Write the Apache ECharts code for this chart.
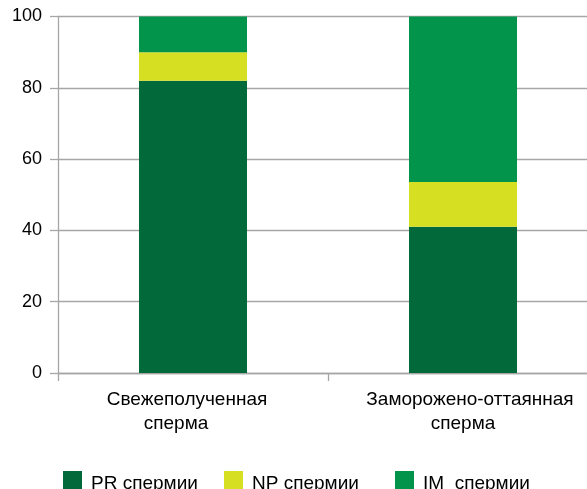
<!DOCTYPE html>
<html>
<head>
<meta charset="utf-8">
<script src="https://cdn.jsdelivr.net/npm/echarts@6/dist/echarts.min.js"></script>
<style>
html,body{margin:0;padding:0;background:#fff;}
#chart{width:587px;height:489px;}
</style>
</head>
<body>
<div id="chart"></div>
<script>
const categories = ['Свежеполученная\nсперма', 'Заморожено-оттаянная\nсперма'];
const seriesNames = ['PR спермии', 'NP спермии', 'IM  спермии'];
const prValues = [82, 41];
const npValues = [8, 12.6];
const imValues = [10, 46.4];
const yTicks = [0, 20, 40, 60, 80, 100];

const colors = ['#02693a', '#d7df23', '#02944a'];
const FONT = "'Liberation Sans', Arial, Helvetica, sans-serif";

const chart = echarts.init(document.getElementById('chart'), null, {renderer: 'canvas'});

function legendFor(name, left) {
  return {
    data: [name],
    left: left,
    top: 471,
    itemWidth: 19,
    itemHeight: 19,
    itemGap: 0,
    padding: 0,
    icon: 'rect',
    formatter: '{t|{name}}',
    textStyle: {
      fontFamily: FONT, fontSize: 19, color: '#000',
      rich: {t: {fontFamily: FONT, fontSize: 19, color: '#000', padding: [6, 0, 0, 4]}}
    }
  };
}

const labelRich = {};
// line styles with horizontal offsets (padding) to mimic original label placement
[['l0', [0, 12, 0, 0]], ['l1', [0, 34, 0, 0]], ['r0', [0, 0, 0, 14]], ['r1', [0, 0, 0, 0]]].forEach(function (d) {
  labelRich[d[0]] = {fontFamily: FONT, fontSize: 19, color: '#000', lineHeight: 24, padding: d[1]};
});

chart.setOption({
  animation: false,
  color: colors,
  legend: [
    legendFor(seriesNames[0], 63),
    legendFor(seriesNames[1], 224),
    legendFor(seriesNames[2], 395)
  ],
  grid: {left: 58, width: 540, top: 16.5, bottom: 116, containLabel: false, outerBoundsMode: 'none'},
  xAxis: {
    type: 'category',
    data: categories,
    axisLine: {show: true, lineStyle: {color: '#a6a6a6', width: 1.3}},
    axisTick: {show: true, length: 8, lineStyle: {color: '#a6a6a6', width: 1.3}},
    axisLabel: {
      fontFamily: FONT, fontSize: 19, color: '#000', margin: 15, lineHeight: 24, interval: 0,
      formatter: function (value, idx) {
        const p = idx === 0 ? 'l' : 'r';
        return value.split('\n').map(function (s, i) { return '{' + p + i + '|' + s + '}'; }).join('\n');
      },
      rich: labelRich
    }
  },
  yAxis: {
    type: 'value',
    min: yTicks[0],
    max: yTicks[yTicks.length - 1],
    interval: yTicks[1] - yTicks[0],
    axisLine: {show: true, lineStyle: {color: '#a6a6a6', width: 1.3}},
    axisTick: {show: true, length: 8, lineStyle: {color: '#a6a6a6', width: 1.3}},
    splitLine: {show: true, lineStyle: {color: '#a6a6a6', width: 1.3}},
    axisLabel: {fontFamily: FONT, fontSize: 18, color: '#000', margin: 16}
  },
  series: [
    {name: seriesNames[0], type: 'bar', stack: 's', data: prValues, barWidth: 108},
    {name: seriesNames[1], type: 'bar', stack: 's', data: npValues, barWidth: 108},
    {name: seriesNames[2], type: 'bar', stack: 's', data: imValues, barWidth: 108}
  ]
});
</script>
</body>
</html>
